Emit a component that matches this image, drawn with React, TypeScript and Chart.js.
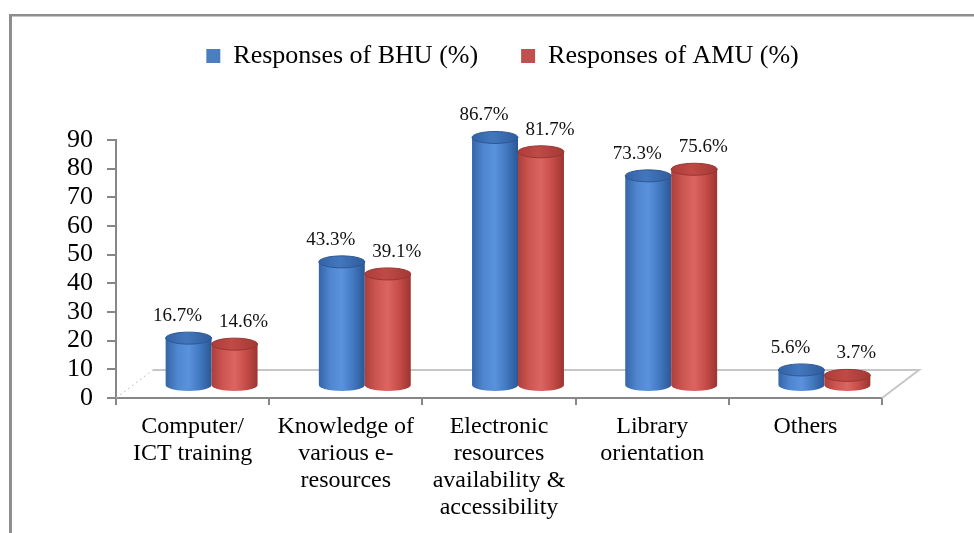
import { useEffect, useRef } from 'react';
import { Chart, registerables } from 'chart.js';

Chart.register(...registerables);

// ---- data ----
const categories: string[][] = [
  ['Computer/', 'ICT training'],
  ['Knowledge of', 'various e-', 'resources'],
  ['Electronic', 'resources', 'availability &', 'accessibility'],
  ['Library', 'orientation'],
  ['Others'],
];
const seriesNames = ['Responses of BHU (%)', 'Responses of AMU (%)'];
const bhuValues = [16.7, 43.3, 86.7, 73.3, 5.6];
const amuValues = [14.6, 39.1, 81.7, 75.6, 3.7];
const yMin = 0;
const yMax = 90;
const yStep = 10;

// ---- styling ----
const SERIF = "'Liberation Serif', 'Times New Roman', serif";
const AXIS_GREY = '#878787';
const FLOOR_GREY = '#c6c6c6';
// depth of the 3-D floor and where the cylinders stand inside it
const DEPTH_X = 37;
const DEPTH_Y = 28;
const BAR_DX = 19;
const BAR_DY = 12;
const CAP_RY = 6;

const palettes = [
  {
    legend: '#4a7ebf',
    body: ['#3565a8', '#4f86cf', '#5a92dc', '#4178c0', '#2b5794'],
    cap: ['#3463a6', '#4377bd', '#2f5c9c'],
    rim: '#2d5896',
  },
  {
    legend: '#c0504d',
    body: ['#ad3e3a', '#cc5652', '#dc6561', '#c64c48', '#9c3431'],
    cap: ['#ad3d39', '#c04a46', '#a23935'],
    rim: '#9a3532',
  },
];
const labelShift = [-11, 9];

function drawCylinder(
  ctx: CanvasRenderingContext2D,
  cx: number,
  top: number,
  base: number,
  rx: number,
  ry: number,
  pal: (typeof palettes)[number]
) {
  const left = cx - rx;
  const right = cx + rx;
  const g = ctx.createLinearGradient(left, 0, right, 0);
  const n = pal.body.length;
  pal.body.forEach((c, i) => g.addColorStop(i / (n - 1), c));
  ctx.save();
  ctx.beginPath();
  ctx.moveTo(left, top);
  ctx.lineTo(left, base);
  ctx.ellipse(cx, base, rx, ry, 0, Math.PI, 0, true);
  ctx.lineTo(right, top);
  ctx.closePath();
  ctx.fillStyle = g;
  ctx.fill();

  const cg = ctx.createLinearGradient(left, 0, right, 0);
  cg.addColorStop(0, pal.cap[0]);
  cg.addColorStop(0.45, pal.cap[1]);
  cg.addColorStop(1, pal.cap[2]);
  ctx.beginPath();
  ctx.ellipse(cx, top, rx, ry, 0, 0, Math.PI * 2);
  ctx.fillStyle = cg;
  ctx.fill();
  ctx.lineWidth = 1;
  ctx.strokeStyle = pal.rim;
  ctx.stroke();
  ctx.restore();
}

const framePlugin = {
  id: 'frame',
  beforeDraw(chart: Chart) {
    const { ctx, width, height } = chart;
    ctx.save();
    ctx.fillStyle = '#ffffff';
    ctx.fillRect(0, 0, width, height);
    ctx.fillStyle = '#8e8e8e';
    ctx.fillRect(9, 14, width - 9, 2.5);
    ctx.fillRect(9, 14, 3, height - 14);
    ctx.restore();
  },
};

const cylinderPlugin = {
  id: 'cylinders',
  beforeDatasetsDraw(chart: Chart) {
    // floor of the 3-D plot area
    const { ctx, chartArea } = chart;
    const { left, right, bottom } = chartArea;
    ctx.save();
    ctx.strokeStyle = FLOOR_GREY;
    ctx.lineWidth = 2;
    ctx.beginPath();
    ctx.moveTo(left + DEPTH_X, bottom - DEPTH_Y);
    ctx.lineTo(right + DEPTH_X, bottom - DEPTH_Y);
    ctx.lineTo(right, bottom);
    ctx.stroke();
    ctx.setLineDash([2, 3]);
    ctx.lineWidth = 1;
    ctx.beginPath();
    ctx.moveTo(left, bottom);
    ctx.lineTo(left + DEPTH_X, bottom - DEPTH_Y);
    ctx.stroke();
    ctx.restore();
  },
  beforeDatasetDraw() {
    return false;
  },
  afterDatasetsDraw(chart: Chart) {
    const { ctx } = chart;
    chart.data.datasets.forEach((ds, di) => {
      const meta = chart.getDatasetMeta(di);
      meta.data.forEach((el: any, i: number) => {
        const { x, y, base, width } = el.getProps(['x', 'y', 'base', 'width'], true);
        const cx = x + BAR_DX;
        const top = y - BAR_DY;
        const bottom = base - BAR_DY;
        drawCylinder(ctx, cx, top, bottom, width / 2, CAP_RY, palettes[di]);
        const v = ds.data[i] as number;
        ctx.save();
        ctx.fillStyle = '#111';
        ctx.font = `19px ${SERIF}`;
        ctx.textAlign = 'center';
        ctx.textBaseline = 'middle';
        ctx.fillText(`${v.toFixed(1)}%`, cx + labelShift[di], top - 22);
        ctx.restore();
      });
    });
  },
};

export default function App() {
  const ref = useRef<HTMLCanvasElement | null>(null);

  useEffect(() => {
    const canvas = ref.current;
    if (!canvas) return;
    const chart = new Chart(canvas, {
      type: 'bar',
      data: {
        labels: categories,
        datasets: [
          {
            label: seriesNames[0],
            data: bhuValues,
            backgroundColor: palettes[0].legend,
            borderWidth: 0,
            categoryPercentage: 0.6,
            barPercentage: 1,
            xAxisID: 'x',
            yAxisID: 'y',
          },
          {
            label: seriesNames[1],
            data: amuValues,
            backgroundColor: palettes[1].legend,
            borderWidth: 0,
            categoryPercentage: 0.6,
            barPercentage: 1,
            xAxisID: 'x',
            yAxisID: 'y',
          },
        ],
      },
      options: {
        responsive: false,
        animation: false,
        layout: { padding: { left: 31, right: 0, top: 0, bottom: 0 } },
        scales: {
          x: {
            type: 'category',
            position: 'bottom',
            offset: true,
            grid: {
              offset: true,
              drawOnChartArea: false,
              drawTicks: true,
              tickLength: 7,
              color: AXIS_GREY,
              lineWidth: 2,
            },
            border: { display: true, color: AXIS_GREY, width: 2 },
            ticks: {
              color: '#000',
              font: { family: SERIF, size: 24, lineHeight: 1.13 },
              padding: 8,
              maxRotation: 0,
              minRotation: 0,
              autoSkip: false,
            },
            afterFit: (s: any) => {
              s.height = 135;
            },
          },
          y: {
            type: 'linear',
            position: 'left',
            min: yMin,
            max: yMax,
            ticks: {
              stepSize: yStep,
              autoSkip: false,
              color: '#000',
              font: { family: SERIF, size: 26 },
              padding: 14,
            },
            grid: {
              drawOnChartArea: false,
              drawTicks: true,
              tickLength: 9,
              color: AXIS_GREY,
              lineWidth: 2,
            },
            border: { display: true, color: AXIS_GREY, width: 2 },
            afterFit: (s: any) => {
              s.width = 85;
            },
          },
          // empty spacer scales that reserve room above and to the right of the plot
          xTop: {
            type: 'linear',
            axis: 'x',
            position: 'top',
            min: 0,
            max: 1,
            ticks: { display: false },
            grid: { display: false },
            border: { display: false },
            afterFit: (s: any) => {
              s.height = 61;
            },
          },
          yRight: {
            type: 'linear',
            axis: 'y',
            position: 'right',
            min: 0,
            max: 1,
            ticks: { display: false },
            grid: { display: false },
            border: { display: false },
            afterFit: (s: any) => {
              s.width = 92;
            },
          },
        } as any,
        plugins: {
          legend: {
            position: 'top',
            align: 'center',
            labels: {
              boxWidth: 14,
              boxHeight: 14,
              padding: 43,
              color: '#000',
              font: { family: SERIF, size: 26 },
            },
          },
          tooltip: { enabled: false },
        },
      },
      plugins: [framePlugin, cylinderPlugin],
    });
    return () => chart.destroy();
  }, []);

  return (
    <div style={{ position: 'absolute', left: 0, top: 0, width: 974, height: 533, background: '#fff' }}>
      <canvas ref={ref} width={974} height={533} />
    </div>
  );
}
